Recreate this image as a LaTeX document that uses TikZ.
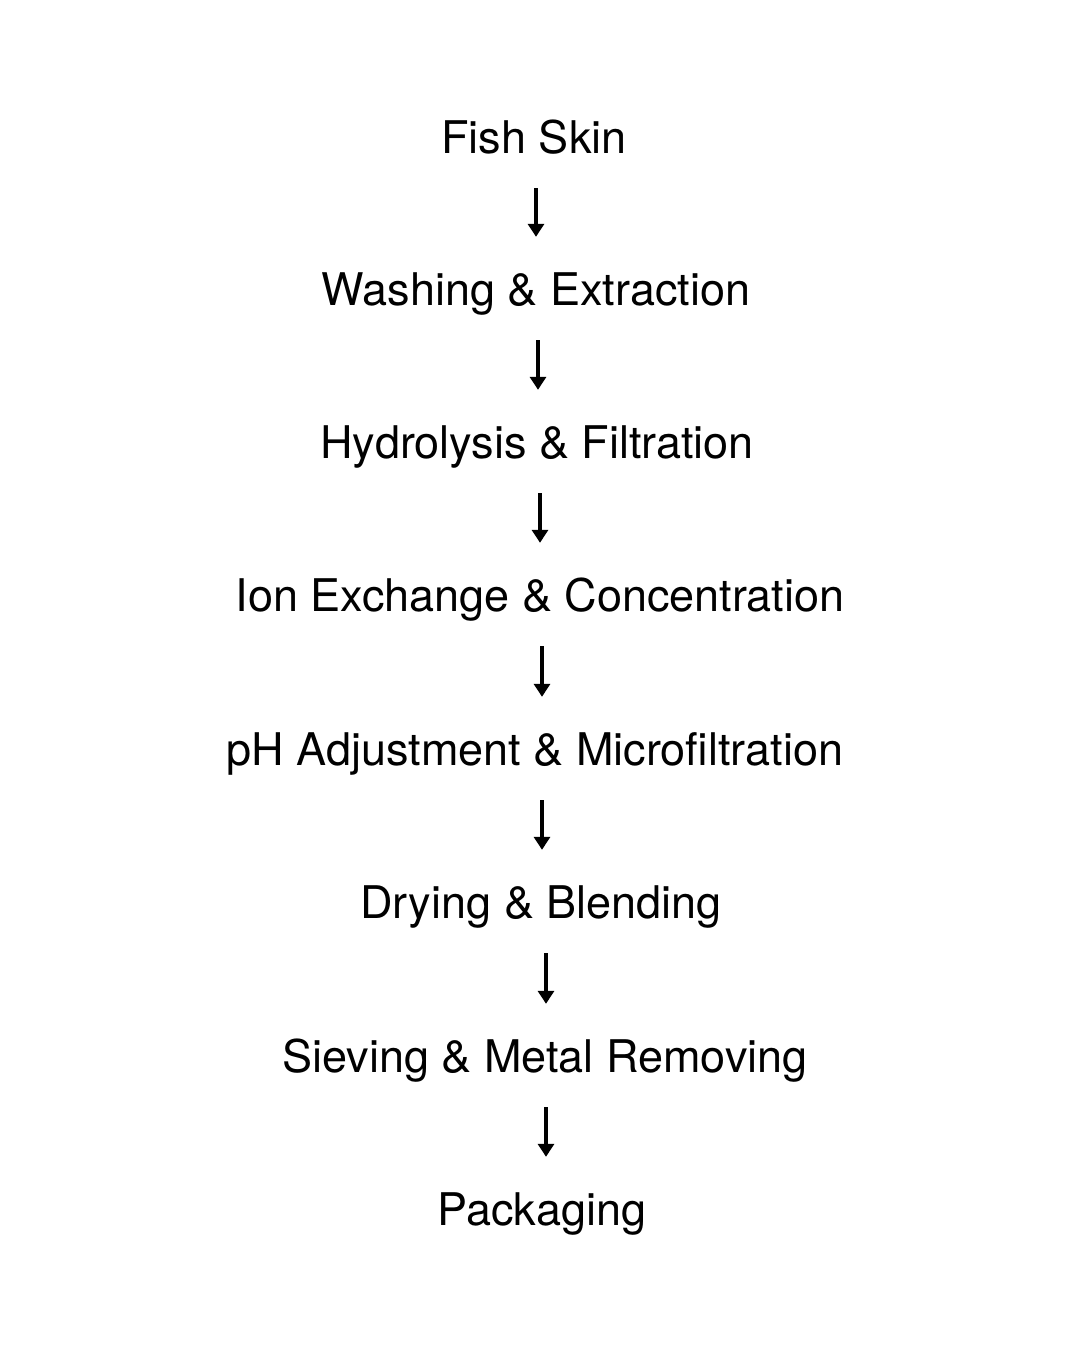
\documentclass[tikz,border=0pt]{standalone}
\usepackage{fontspec}
\setmainfont{TeX Gyre Heros}
\usetikzlibrary{arrows.meta}
\begin{document}
\begin{tikzpicture}[x=1pt,y=-1pt,
  lbl/.style={anchor=base,inner sep=0pt,text height=32pt,text depth=0pt,font=\fontsize{45}{50}\selectfont},
  arr/.style={line width=3.4pt,-{Triangle[width=16pt,length=13pt]},shorten <=35pt,shorten >=36pt}]
\fill[white] (0,0) rectangle (1080,1350);
\useasboundingbox (0,0) rectangle (1080,1350);
\node[lbl] (n1) at (534,153) {Fish Skin};
\node[lbl] (n2) at (536,305) {Washing \& Extraction};
\node[lbl] (n3) at (537,458) {Hydrolysis \& Filtration};
\node[lbl] (n4) at (540,611) {Ion Exchange \& Concentration};
\node[lbl] (n5) at (535,765) {pH Adjustment \& Microfiltration};
\node[lbl] (n6) at (541,918) {Drying \& Blending};
\node[lbl] (n7) at (545,1072) {Sieving \& Metal Removing};
\node[lbl] (n8) at (542,1225) {Packaging};
\draw[arr] ([xshift=2pt]n1.south) -- ([xshift=2pt]n1.south |- n2.north);
\draw[arr] ([xshift=2pt]n2.south) -- ([xshift=2pt]n2.south |- n3.north);
\draw[arr] ([xshift=3pt]n3.south) -- ([xshift=3pt]n3.south |- n4.north);
\draw[arr] ([xshift=2pt]n4.south) -- ([xshift=2pt]n4.south |- n5.north);
\draw[arr] ([xshift=7pt]n5.south) -- ([xshift=7pt]n5.south |- n6.north);
\draw[arr] ([xshift=5pt]n6.south) -- ([xshift=5pt]n6.south |- n7.north);
\draw[arr] ([xshift=1pt]n7.south) -- ([xshift=1pt]n7.south |- n8.north);
\end{tikzpicture}
\end{document}
